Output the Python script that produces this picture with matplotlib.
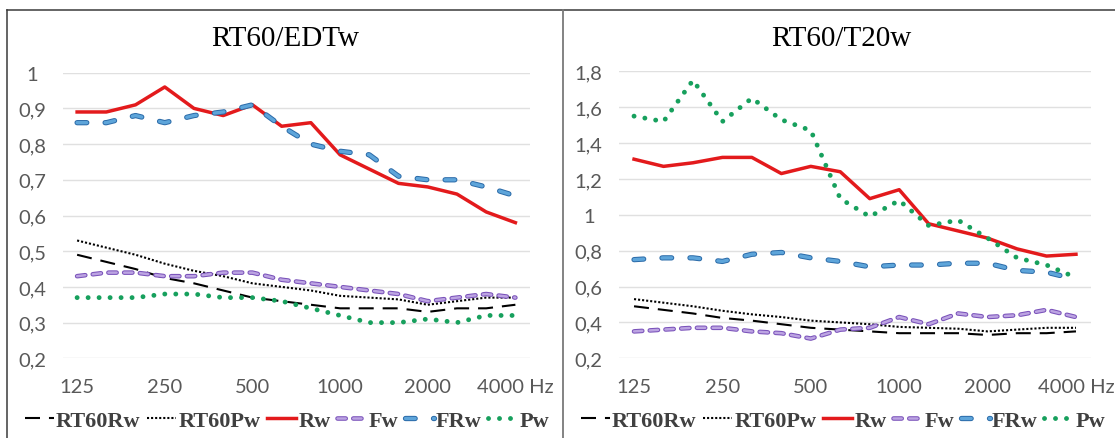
import matplotlib.pyplot as plt
import matplotlib.patheffects as pe
from matplotlib.lines import Line2D

# third-octave bands, only every third one gets a label
bands = ["125", "160", "200", "250", "315", "400", "500", "630", "800",
         "1000", "1250", "1600", "2000", "2500", "3150", "4000 Hz"]

# reference reverberation curves (same in both panels)
rt60_rw = [0.49, 0.47, 0.45, 0.425, 0.41, 0.39, 0.37, 0.36, 0.35, 0.34, 0.34, 0.34, 0.33, 0.34, 0.34, 0.35]
rt60_pw = [0.53, 0.51, 0.49, 0.465, 0.445, 0.43, 0.41, 0.40, 0.39, 0.375, 0.37, 0.365, 0.35, 0.36, 0.37, 0.37]

# RT60/EDTw
edt_rw = [0.89, 0.89, 0.91, 0.96, 0.90, 0.88, 0.91, 0.85, 0.86, 0.77, 0.73, 0.69, 0.68, 0.66, 0.61, 0.58]
edt_fw = [0.43, 0.44, 0.44, 0.43, 0.43, 0.44, 0.44, 0.42, 0.41, 0.40, 0.39, 0.38, 0.36, 0.37, 0.38, 0.37]
edt_frw = [0.86, 0.86, 0.88, 0.86, 0.88, 0.89, 0.91, 0.85, 0.80, 0.78, 0.77, 0.71, 0.70, 0.70, 0.68, 0.655]
edt_pw = [0.37, 0.37, 0.37, 0.38, 0.38, 0.37, 0.37, 0.36, 0.34, 0.32, 0.30, 0.30, 0.31, 0.30, 0.32, 0.32]

# RT60/T20w
t20_rw = [1.31, 1.27, 1.29, 1.32, 1.32, 1.23, 1.27, 1.24, 1.09, 1.14, 0.95, 0.91, 0.87, 0.81, 0.77, 0.78]
t20_fw = [0.35, 0.36, 0.37, 0.37, 0.35, 0.34, 0.31, 0.36, 0.37, 0.43, 0.39, 0.45, 0.43, 0.44, 0.47, 0.43]
t20_frw = [0.75, 0.76, 0.76, 0.74, 0.78, 0.79, 0.76, 0.74, 0.71, 0.72, 0.72, 0.73, 0.73, 0.69, 0.68, 0.64]
t20_pw = [1.55, 1.52, 1.75, 1.52, 1.65, 1.53, 1.47, 1.09, 0.99, 1.08, 0.94, 0.97, 0.87, 0.76, 0.72, 0.65]

W, H = 1115, 439
fig = plt.figure(figsize=(W / 100, H / 100), dpi=100)

TICK_FONT = dict(family="Lato", size=14.5, color="#595959")


def px_axes(x0, x1, top, bottom):
    return fig.add_axes([x0 / W, 1 - bottom / H, (x1 - x0) / W, (bottom - top) / H])


def fmt(v):
    s = f"{v:.1f}".replace(".", ",")
    return s[:-2] if s.endswith(",0") else s


def draw_panel(ax, title, cx, series, ymax, ystep):
    x = range(len(bands))
    rw, fw, frw, pw = series
    ax.plot(x, rt60_rw, color="black", lw=1.5, ls=(0, (7.2, 4.3)),
            dash_capstyle="butt", label="RT60Rw")
    ax.plot(x, rt60_pw, color="black", lw=1.5, ls=(0, (1, 0.95)),
            dash_capstyle="butt", label="RT60Pw")
    ax.plot(x, rw, color="#E31A1C", lw=2.5, solid_joinstyle="round", label="Rw")
    ax.plot(x, fw, color="#BCA4E2", lw=1.8, ls=(0, (3.3, 3.0)), dash_capstyle="round",
            path_effects=[pe.Stroke(linewidth=3.3, foreground="#7A52BA"), pe.Normal()],
            label="Fw")
    ax.plot(x, frw, color="#5EA5DA", lw=2.4, ls=(0, (2.9, 5.5)), dash_capstyle="round",
            path_effects=[pe.Stroke(linewidth=3.8, foreground="#2A6AA8"), pe.Normal()],
            label="FRw")
    ax.plot(x, pw, color="#17A05D", lw=3.5, ls=(0, (0.01, 2.25)), dash_capstyle="round",
            label="Pw")

    ax.set_xlim(-0.5, len(bands) - 0.5)
    ax.set_ylim(0.2, ymax)
    ax.set_xticks(range(0, len(bands), 3))
    ax.set_xticklabels(bands[::3], **TICK_FONT)
    yt = [round(0.2 + i * ystep, 1) for i in range(int(round((ymax - 0.2) / ystep)) + 1)]
    ax.set_yticks(yt)
    ax.set_yticklabels([fmt(v) for v in yt], **TICK_FONT)
    for lab in ax.get_yticklabels():
        lab.set_horizontalalignment("center")
    ax.tick_params(axis="x", length=0, pad=14)
    ax.tick_params(axis="y", length=0, pad=22)
    ax.grid(axis="y", color="#E0E0E0", lw=1)
    ax.set_axisbelow(True)
    for s in ax.spines.values():
        s.set_visible(False)

    fig.text(cx / W, 1 - 39 / H, title, ha="center", va="center",
             family="Liberation Serif", fontsize=21, color="black")
    ax.legend(loc="center", bbox_to_anchor=((cx + 2) / W, 1 - 421.5 / H),
              bbox_transform=fig.transFigure, ncol=6, frameon=False,
              prop=dict(family="Liberation Serif", weight="bold", size=16),
              labelcolor="#404040", handlelength=1.3, handletextpad=0.1,
              columnspacing=0.3, borderpad=0.1)


ax1 = px_axes(62.5, 530, 73.7, 359.3)
draw_panel(ax1, "RT60/EDTw", 285, (edt_rw, edt_fw, edt_frw, edt_pw), 1.0, 0.1)

ax2 = px_axes(619.3, 1090.7, 72.3, 359.3)
draw_panel(ax2, "RT60/T20w", 841, (t20_rw, t20_fw, t20_frw, t20_pw), 1.8, 0.2)

# chart-area borders
frame = dict(transform=fig.transFigure, color="#3A3A3A", lw=1.1)
fig.add_artist(Line2D([7 / W, 1], [1 - 11 / H, 1 - 11 / H], **frame))
fig.add_artist(Line2D([7 / W, 7 / W], [1 - 11 / H, 0], **frame))
fig.add_artist(Line2D([563 / W, 563 / W], [1 - 11 / H, 0], color="#7A7A7A", lw=1.3,
                      transform=fig.transFigure))

fig.savefig("out.png", dpi=100)
